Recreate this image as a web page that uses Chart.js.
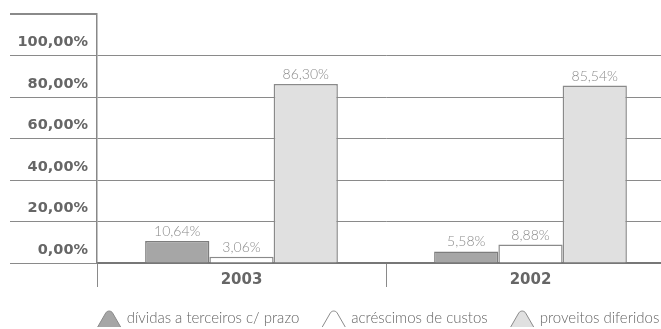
<!DOCTYPE html>
<html>
<head>
<meta charset="utf-8">
<script src="https://cdn.jsdelivr.net/npm/chart.js@4/dist/chart.umd.min.js"></script>
<style>
  html, body { margin: 0; padding: 0; background: #fff; overflow: hidden; width: 661px; height: 329px; }
  #wrap { width: 675px; height: 329px; }
</style>
</head>
<body>
<div id="wrap"><canvas id="c" width="675" height="329"></canvas></div>
<script>
// Years shown on the category axis
const categories = ['2003', '2002'];

// Share of each item, in percent
const dividas = [10.64, 5.58];
const acrescimos = [3.06, 8.88];
const proveitos = [86.30, 85.54];

const seriesNames = ['dívidas a terceiros c/ prazo', 'acréscimos de custos', 'proveitos diferidos'];

// Value axis steps (the top step only closes the label column)
const yTicks = [0, 20, 40, 60, 80, 100, 120];

const fillColors = ['#a6a6a6', '#ffffff', '#e0e0e0'];
const edgeColors = ['#7d7d7d', '#8a8a8a', '#8a8a8a'];

const pct = v => v.toFixed(2).replace('.', ',') + '%';
const lightFont = '"Lato", "Open Sans", sans-serif';

// Percentages printed above every bar
const valueLabels = {
  id: 'valueLabels',
  afterDatasetsDraw(chart) {
    const ctx = chart.ctx;
    ctx.save();
    ctx.font = '300 14px ' + lightFont;
    ctx.fillStyle = '#8c8c8c';
    ctx.textAlign = 'center';
    ctx.textBaseline = 'alphabetic';
    chart.data.datasets.forEach((ds, i) => {
      chart.getDatasetMeta(i).data.forEach((bar, j) => {
        ctx.fillText(pct(ds.data[j]), bar.x, bar.y - 5);
      });
    });
    ctx.restore();
  }
};

// Closing rule above the value-axis label column
const labelColumnTop = {
  id: 'labelColumnTop',
  afterDraw(chart) {
    const area = chart.chartArea;
    const ctx = chart.ctx;
    ctx.save();
    ctx.fillStyle = '#8a8a8a';
    ctx.fillRect(area.left - 87, Math.round(area.top) - 1, 87, 2);
    ctx.restore();
  }
};

// Legend row with rounded-cone markers
const coneLegend = {
  id: 'coneLegend',
  afterDraw(chart) {
    const ctx = chart.ctx;
    const iconW = 25, iconH = 20, gapIcon = 5, gapItem = 22;
    const baseY = 327, textY = 323, centerX = 378;
    ctx.save();
    ctx.font = '300 15px ' + lightFont;
    const items = chart.data.datasets.map(ds => ({ ds, w: ctx.measureText(ds.label).width }));
    const total = items.reduce((s, it) => s + iconW + gapIcon + it.w, 0) + gapItem * (items.length - 1);
    let x = centerX - total / 2;
    items.forEach(it => {
      ctx.beginPath();
      ctx.moveTo(x + 1, baseY);
      ctx.arcTo(x + iconW / 2, baseY - iconH, x + iconW - 1, baseY, 4);
      ctx.lineTo(x + iconW - 1, baseY);
      ctx.fillStyle = it.ds.backgroundColor;
      ctx.fill();
      ctx.lineWidth = 1;
      ctx.strokeStyle = '#8a8a8a';
      ctx.stroke();
      ctx.fillStyle = '#666666';
      ctx.textAlign = 'left';
      ctx.textBaseline = 'alphabetic';
      ctx.fillText(it.ds.label, x + iconW + gapIcon, textY);
      x += iconW + gapIcon + it.w + gapItem;
    });
    ctx.restore();
  }
};

const seriesValues = [dividas, acrescimos, proveitos];

new Chart(document.getElementById('c'), {
  type: 'bar',
  data: {
    labels: categories,
    datasets: seriesValues.map((vals, i) => ({
      label: seriesNames[i],
      data: vals,
      backgroundColor: fillColors[i],
      borderColor: edgeColors[i],
      borderWidth: 1.5,
      categoryPercentage: 0.667,
      barPercentage: 1
    }))
  },
  options: {
    responsive: false,
    animation: false,
    devicePixelRatio: 1,
    layout: { padding: { top: 14, bottom: 42, left: 0, right: 0 } },
    plugins: { legend: { display: false }, tooltip: { enabled: false } },
    scales: {
      x: {
        offset: true,
        grid: { offset: true, drawOnChartArea: false, drawTicks: true, tickLength: 24, color: '#8a8a8a', lineWidth: 1 },
        border: { display: true, color: '#777777', width: 2 },
        ticks: { padding: -16, color: '#666666', font: { family: '"DejaVu Sans", sans-serif', size: 15, weight: 'bold' } },
        afterFit: s => { s.height = 24; }
      },
      y: {
        min: 0,
        max: 120,
        afterBuildTicks: s => { s.ticks = yTicks.map(v => ({ value: v })); },
        grid: {
          drawTicks: true,
          tickLength: 87,
          color: c => (c.tick && c.tick.value === 120 ? 'rgba(255,255,255,0)' : '#8a8a8a'),
          tickColor: '#8a8a8a',
          lineWidth: 1
        },
        border: { display: true, color: '#888888', width: 1.5 },
        ticks: {
          padding: -78,
          labelOffset: -13,
          color: '#666666',
          font: { family: '"DejaVu Sans", sans-serif', size: 14.5, weight: 'bold' },
          callback: v => (v === 120 ? '' : pct(v))
        },
        afterFit: s => { s.width = 97; }
      }
    }
  },
  plugins: [valueLabels, labelColumnTop, coneLegend]
});
</script>
</body>
</html>
